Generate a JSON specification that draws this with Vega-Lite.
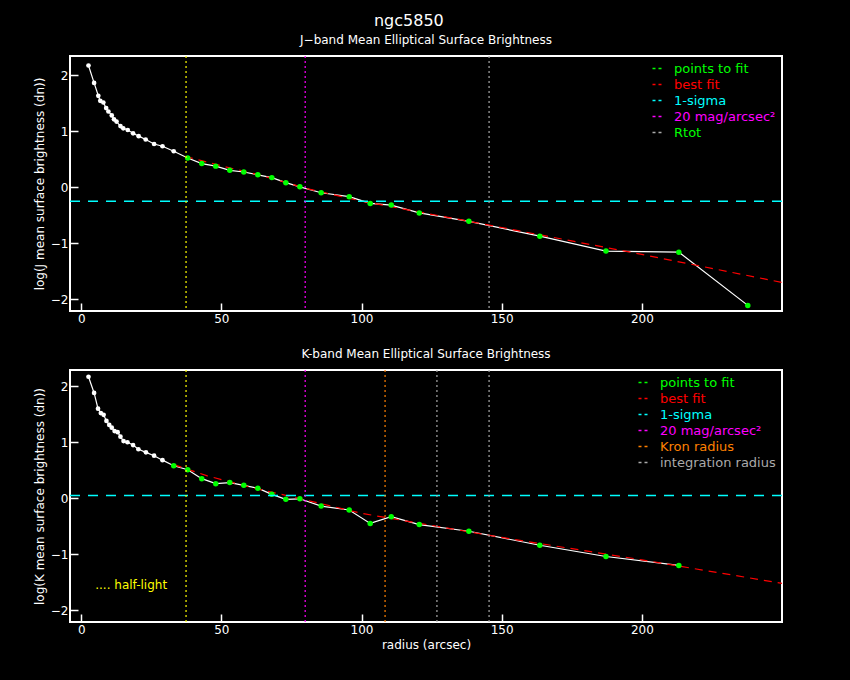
{
"$schema":"https://vega.github.io/schema/vega-lite/v6.json",
"background":"black",
"padding":{"left":32,"top":13,"right":68,"bottom":30},
"title":{"text":"ngc5850","color":"white","fontSize":16,"font":"DejaVu Sans","fontWeight":"normal","anchor":"middle","offset":4},
"config":{"view":{"stroke":"white","strokeWidth":2},"font":"DejaVu Sans",
 "axis":{"domain":false,"grid":false,"tickColor":"white","tickSize":-8,"labelColor":"white","titleColor":"white","labelFont":"DejaVu Sans","titleFont":"DejaVu Sans","labelFontSize":12,"titleFontSize":12,"titleFontWeight":"normal","labelPadding":10,"tickWidth":1.5,"format":"d"},
 "title":{"color":"white","fontSize":12,"fontWeight":"normal","font":"DejaVu Sans","offset":8}},
"datasets":{
"one":[{}],
"jprof":[
{"r":2.6,"v":2.17,"kind":"profile"},{"r":4.6,"v":1.86,"kind":"profile"},{"r":6.1,"v":1.63,"kind":"profile"},{"r":6.8,"v":1.54,"kind":"profile"},{"r":7.9,"v":1.51,"kind":"profile"},{"r":8.9,"v":1.41,"kind":"profile"},{"r":9.7,"v":1.35,"kind":"profile"},{"r":10.9,"v":1.28,"kind":"profile"},{"r":11.7,"v":1.21,"kind":"profile"},{"r":12.6,"v":1.17,"kind":"profile"},{"r":14,"v":1.09,"kind":"profile"},{"r":15,"v":1.05,"kind":"profile"},{"r":16.6,"v":1.02,"kind":"profile"},{"r":18.5,"v":0.96,"kind":"profile"},{"r":20.5,"v":0.91,"kind":"profile"},{"r":23,"v":0.85,"kind":"profile"},{"r":26,"v":0.77,"kind":"profile"},{"r":29,"v":0.73,"kind":"profile"},{"r":33,"v":0.64,"kind":"profile"},
{"r":38,"v":0.52,"kind":"points to fit"},{"r":43,"v":0.42,"kind":"points to fit"},{"r":48,"v":0.375,"kind":"points to fit"},{"r":53,"v":0.3,"kind":"points to fit"},{"r":58,"v":0.27,"kind":"points to fit"},{"r":63,"v":0.22,"kind":"points to fit"},{"r":68,"v":0.17,"kind":"points to fit"},{"r":73,"v":0.08,"kind":"points to fit"},{"r":78,"v":0.005,"kind":"points to fit"},{"r":85.6,"v":-0.1,"kind":"points to fit"},{"r":95.6,"v":-0.17,"kind":"points to fit"},{"r":103.1,"v":-0.29,"kind":"points to fit"},{"r":110.6,"v":-0.32,"kind":"points to fit"},{"r":120.6,"v":-0.46,"kind":"points to fit"},{"r":138.3,"v":-0.61,"kind":"points to fit"},{"r":163.6,"v":-0.875,"kind":"points to fit"},{"r":187.2,"v":-1.14,"kind":"points to fit"},{"r":213.2,"v":-1.16,"kind":"points to fit"},{"r":237.8,"v":-2.11,"kind":"points to fit"}],
"jfit":[{"r":37,"v":0.55,"series":"best fit"},{"r":50,"v":0.38,"series":"best fit"},{"r":65,"v":0.2,"series":"best fit"},{"r":80,"v":-0.02,"series":"best fit"},{"r":100,"v":-0.25,"series":"best fit"},{"r":150,"v":-0.72,"series":"best fit"},{"r":200,"v":-1.2,"series":"best fit"},{"r":250,"v":-1.7,"series":"best fit"}],
"jmark":[{"series":"1-sigma","v":-0.25},{"series":"20 mag/arcsec²","r":79.9},{"series":"Rtot","r":145.5}],
"kprof":[
{"r":2.6,"v":2.17,"kind":"profile"},{"r":4.6,"v":1.88,"kind":"profile"},{"r":6.0,"v":1.6,"kind":"profile"},{"r":7.0,"v":1.52,"kind":"profile"},{"r":8.0,"v":1.49,"kind":"profile"},{"r":9.0,"v":1.38,"kind":"profile"},{"r":10.0,"v":1.31,"kind":"profile"},{"r":10.9,"v":1.26,"kind":"profile"},{"r":11.9,"v":1.2,"kind":"profile"},{"r":13.0,"v":1.18,"kind":"profile"},{"r":14.0,"v":1.1,"kind":"profile"},{"r":15.1,"v":1.02,"kind":"profile"},{"r":16.5,"v":1.0,"kind":"profile"},{"r":18.5,"v":0.95,"kind":"profile"},{"r":20.4,"v":0.875,"kind":"profile"},{"r":23.1,"v":0.82,"kind":"profile"},{"r":26,"v":0.76,"kind":"profile"},{"r":29,"v":0.68,"kind":"profile"},
{"r":33,"v":0.58,"kind":"points to fit"},{"r":38,"v":0.51,"kind":"points to fit"},{"r":43,"v":0.35,"kind":"points to fit"},{"r":48,"v":0.26,"kind":"points to fit"},{"r":53,"v":0.28,"kind":"points to fit"},{"r":58,"v":0.23,"kind":"points to fit"},{"r":63,"v":0.18,"kind":"points to fit"},{"r":68,"v":0.07,"kind":"points to fit"},{"r":73,"v":-0.02,"kind":"points to fit"},{"r":78,"v":-0.01,"kind":"points to fit"},{"r":85.6,"v":-0.14,"kind":"points to fit"},{"r":95.6,"v":-0.21,"kind":"points to fit"},{"r":103.1,"v":-0.45,"kind":"points to fit"},{"r":110.6,"v":-0.33,"kind":"points to fit"},{"r":120.6,"v":-0.47,"kind":"points to fit"},{"r":138.3,"v":-0.59,"kind":"points to fit"},{"r":163.6,"v":-0.84,"kind":"points to fit"},{"r":187.2,"v":-1.04,"kind":"points to fit"},{"r":213.2,"v":-1.2,"kind":"points to fit"}],
"kfit":[{"r":33,"v":0.6,"series":"best fit"},{"r":45,"v":0.4,"series":"best fit"},{"r":60,"v":0.2,"series":"best fit"},{"r":80,"v":-0.03,"series":"best fit"},{"r":100,"v":-0.27,"series":"best fit"},{"r":150,"v":-0.7,"series":"best fit"},{"r":200,"v":-1.1,"series":"best fit"},{"r":250,"v":-1.52,"series":"best fit"}],
"kmark":[{"series":"1-sigma","v":0.05},{"series":"20 mag/arcsec²","r":79.9},{"series":"Kron radius","r":108.4},{"series":"integration radius","r":126.9}]
},
"vconcat":[
{"width":712,"height":255,
 "title":"J−band Mean Elliptical Surface Brightness",
 "layer":[
  {"data":{"name":"jprof"},"mark":{"type":"line","color":"white","strokeWidth":1.2},"encoding":{"x":{"field":"r","type":"quantitative","scale":{"domain":[-4,250],"nice":false,"zero":false},"axis":{"values":[0,50,100,150,200],"title":null}},"y":{"field":"v","type":"quantitative","scale":{"domain":[-2.21,2.34],"nice":false,"zero":false},"axis":{"values":[-2,-1,0,1,2],"title":"log(J mean surface brightness (dn))"}}}},
  {"data":{"name":"jprof"},"transform":[{"filter":"datum.kind=='profile'"}],"mark":{"type":"point","filled":true,"color":"white","size":22,"opacity":1},"encoding":{"x":{"field":"r","type":"quantitative"},"y":{"field":"v","type":"quantitative"}}},
  {"data":{"name":"jfit"},"mark":{"type":"line","strokeDash":[8,6],"strokeWidth":1.2},"encoding":{"x":{"field":"r","type":"quantitative"},"y":{"field":"v","type":"quantitative"},"color":{"field":"series","type":"nominal"}}},
  {"data":{"name":"jprof"},"transform":[{"filter":"datum.kind!='profile'"}],"mark":{"type":"point","filled":true,"size":30,"opacity":1},"encoding":{"x":{"field":"r","type":"quantitative"},"y":{"field":"v","type":"quantitative"},"color":{"field":"kind","type":"nominal"}}},
  {"data":{"name":"jmark"},"transform":[{"filter":"datum.v!=null"}],"mark":{"type":"rule","strokeDash":[10,8],"strokeWidth":1.5},"encoding":{"y":{"field":"v","type":"quantitative"},"color":{"field":"series","type":"nominal"}}},
  {"data":{"name":"jmark"},"transform":[{"filter":"datum.r!=null"}],"mark":{"type":"rule","strokeDash":[2,3],"strokeWidth":1.2},"encoding":{"x":{"field":"r","type":"quantitative"},"color":{"field":"series","type":"nominal","scale":{"domain":["points to fit","best fit","1-sigma","20 mag/arcsec²","Rtot"],"range":["#00ff00","#ff0000","#00ffff","#ff00ff","#aaaaaa"]},"legend":{"title":null,"orient":"top-right","offset":6,"labelFontSize":13,"labelColor":{"expr":"datum.label=='points to fit'?'#00ff00':datum.label=='best fit'?'#ff0000':datum.label=='1-sigma'?'#00ffff':datum.label=='Rtot'?'#00ff00':'#ff00ff'"},"symbolType":"stroke","symbolStrokeWidth":1.5,"symbolDash":[3,3],"rowPadding":2,"labelOffset":10}}}},
  {"data":{"name":"one"},"mark":{"type":"rule","color":"yellow","strokeDash":[2,3],"strokeWidth":1.2},"encoding":{"x":{"datum":37.4,"type":"quantitative"}}}
 ],
 "resolve":{"scale":{"color":"shared"}}},
{"width":712,"height":252,
 "title":"K-band Mean Elliptical Surface Brightness",
 "layer":[
  {"data":{"name":"kprof"},"mark":{"type":"line","color":"white","strokeWidth":1.2},"encoding":{"x":{"field":"r","type":"quantitative","scale":{"domain":[-4,250],"nice":false,"zero":false},"axis":{"values":[0,50,100,150,200],"title":"radius (arcsec)"}},"y":{"field":"v","type":"quantitative","scale":{"domain":[-2.21,2.29],"nice":false,"zero":false},"axis":{"values":[-2,-1,0,1,2],"title":"log(K mean surface brightness (dn))"}}}},
  {"data":{"name":"kprof"},"transform":[{"filter":"datum.kind=='profile'"}],"mark":{"type":"point","filled":true,"color":"white","size":22,"opacity":1},"encoding":{"x":{"field":"r","type":"quantitative"},"y":{"field":"v","type":"quantitative"}}},
  {"data":{"name":"kfit"},"mark":{"type":"line","strokeDash":[8,6],"strokeWidth":1.2},"encoding":{"x":{"field":"r","type":"quantitative"},"y":{"field":"v","type":"quantitative"},"color":{"field":"series","type":"nominal"}}},
  {"data":{"name":"kprof"},"transform":[{"filter":"datum.kind!='profile'"}],"mark":{"type":"point","filled":true,"size":30,"opacity":1},"encoding":{"x":{"field":"r","type":"quantitative"},"y":{"field":"v","type":"quantitative"},"color":{"field":"kind","type":"nominal"}}},
  {"data":{"name":"kmark"},"transform":[{"filter":"datum.v!=null"}],"mark":{"type":"rule","strokeDash":[10,8],"strokeWidth":1.5},"encoding":{"y":{"field":"v","type":"quantitative"},"color":{"field":"series","type":"nominal"}}},
  {"data":{"name":"kmark"},"transform":[{"filter":"datum.r!=null"}],"mark":{"type":"rule","strokeDash":[2,3],"strokeWidth":1.2},"encoding":{"x":{"field":"r","type":"quantitative"},"color":{"field":"series","type":"nominal","scale":{"domain":["points to fit","best fit","1-sigma","20 mag/arcsec²","Kron radius","integration radius"],"range":["#00ff00","#ff0000","#00ffff","#ff00ff","#ff8000","#aaaaaa"]},"legend":{"title":null,"orient":"top-right","offset":6,"labelFontSize":13,"labelColor":{"expr":"datum.label=='points to fit'?'#00ff00':datum.label=='best fit'?'#ff0000':datum.label=='1-sigma'?'#00ffff':datum.label=='Kron radius'?'#ff8000':datum.label=='integration radius'?'#aaaaaa':'#ff00ff'"},"symbolType":"stroke","symbolStrokeWidth":1.5,"symbolDash":[3,3],"rowPadding":2,"labelOffset":10}}}},
  {"data":{"name":"one"},"mark":{"type":"rule","color":"yellow","strokeDash":[2,3],"strokeWidth":1.2},"encoding":{"x":{"datum":37.4,"type":"quantitative"}}},
  {"data":{"name":"one"},"mark":{"type":"rule","color":"#aaaaaa","strokeDash":[2,3],"strokeWidth":1.2},"encoding":{"x":{"datum":145.5,"type":"quantitative"}}},
  {"data":{"name":"one"},"mark":{"type":"text","color":"yellow","align":"left","fontSize":12,"font":"DejaVu Sans"},"encoding":{"x":{"datum":5,"type":"quantitative"},"y":{"datum":-1.55,"type":"quantitative"},"text":{"value":"....  half-light"}}}
 ],
 "resolve":{"scale":{"color":"shared"}}}
],
"resolve":{"scale":{"color":"independent"},"legend":{"color":"independent"}},
"spacing":22
}
